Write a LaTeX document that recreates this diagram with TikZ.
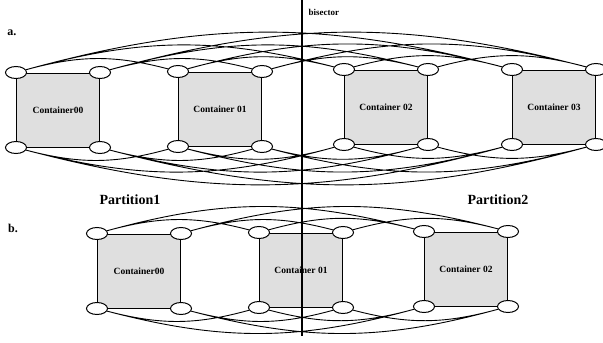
\documentclass[tikz,border=0pt]{standalone}
\usepackage{fontspec}
\setmainfont{Liberation Serif}
\usetikzlibrary{shapes.geometric}
\tikzset{
  cbox/.style={draw,line width=1pt,fill=gray!25,minimum width=83pt,minimum height=74pt,inner sep=0pt,font=\bfseries\fontsize{9.5}{11}\selectfont},
  port/.style={draw,ellipse,line width=1pt,fill=white,minimum width=21pt,minimum height=12pt,inner sep=0pt},
  link/.style={line width=0.9pt},
}
\begin{document}
\begin{tikzpicture}[x=1pt,y=-1pt]
		\useasboundingbox (0,0) rectangle (603,343);
		% part a
		\node[cbox](a0) at (58,110) {Container00};
		\node[cbox](a1) at (220,109) {Container 01};
		\node[cbox](a2) at (386,107) {Container 02};
		\node[cbox](a3) at (554,107) {Container 03};
		\node[port](a0tl) at (a0.north west) {}; \node[port](a0tr) at (a0.north east) {};
		\node[port](a0bl) at (a0.south west) {}; \node[port](a0br) at (a0.south east) {};
		\node[port](a1tl) at (a1.north west) {}; \node[port](a1tr) at (a1.north east) {};
		\node[port](a1bl) at (a1.south west) {}; \node[port](a1br) at (a1.south east) {};
		\node[port](a2tl) at (a2.north west) {}; \node[port](a2tr) at (a2.north east) {};
		\node[port](a2bl) at (a2.south west) {}; \node[port](a2br) at (a2.south east) {};
		\node[port](a3tl) at (a3.north west) {}; \node[port](a3tr) at (a3.north east) {};
		\node[port](a3bl) at (a3.south west) {}; \node[port](a3br) at (a3.south east) {};
		\draw[link,bend left=15] (a0tl) to (a1tl) (a0tl) to (a2tl) (a0tl) to (a3tl) (a1tl) to (a2tl) (a1tl) to (a3tl) (a2tl) to (a3tl)
			(a0tr) to (a1tr) (a0tr) to (a2tr) (a0tr) to (a3tr) (a1tr) to (a2tr) (a1tr) to (a3tr) (a2tr) to (a3tr);
		\draw[link,bend right=15] (a0bl) to (a1bl) (a0bl) to (a2bl) (a0bl) to (a3bl) (a1bl) to (a2bl) (a1bl) to (a3bl) (a2bl) to (a3bl)
			(a0br) to (a1br) (a0br) to (a2br) (a0br) to (a3br) (a1br) to (a2br) (a1br) to (a3br) (a2br) to (a3br);
		% part b
		\node[cbox](b0) at (139,271) {Container00};
		\node[cbox](b1) at (301,270) {Container 01};
		\node[cbox](b2) at (466,269) {Container 02};
		\node[port](b0tl) at (b0.north west) {}; \node[port](b0tr) at (b0.north east) {};
		\node[port](b0bl) at (b0.south west) {}; \node[port](b0br) at (b0.south east) {};
		\node[port](b1tl) at (b1.north west) {}; \node[port](b1tr) at (b1.north east) {};
		\node[port](b1bl) at (b1.south west) {}; \node[port](b1br) at (b1.south east) {};
		\node[port](b2tl) at (b2.north west) {}; \node[port](b2tr) at (b2.north east) {};
		\node[port](b2bl) at (b2.south west) {}; \node[port](b2br) at (b2.south east) {};
		\draw[link,bend left=15] (b0tl) to (b1tl) (b0tl) to (b2tl) (b1tl) to (b2tl)
			(b0tr) to (b1tr) (b0tr) to (b2tr) (b1tr) to (b2tr);
		\draw[link,bend right=15] (b0bl) to (b1bl) (b0bl) to (b2bl) (b1bl) to (b2bl)
			(b0br) to (b1br) (b0br) to (b2br) (b1br) to (b2br);
		% labels and bisector
		\node[font=\bfseries\fontsize{12}{13}\selectfont](la) at (12,33) {a.};
		\node[font=\bfseries\fontsize{12}{13}\selectfont](lb) at (13,228) {b.};
		\node[font=\bfseries\fontsize{14}{16}\selectfont](p1) at (130,200) {Partition1};
		\node[font=\bfseries\fontsize{14}{16}\selectfont](p2) at (498,200) {Partition2};
		\coordinate (btop) at (302,0);
		\coordinate (bbot) at (302,336);
		\draw[line width=1.8pt] (btop) -- (bbot);
		\node[font=\bfseries\fontsize{9}{10}\selectfont,anchor=west](bis) at (305,12) {bisector};
	\end{tikzpicture}
\end{document}
